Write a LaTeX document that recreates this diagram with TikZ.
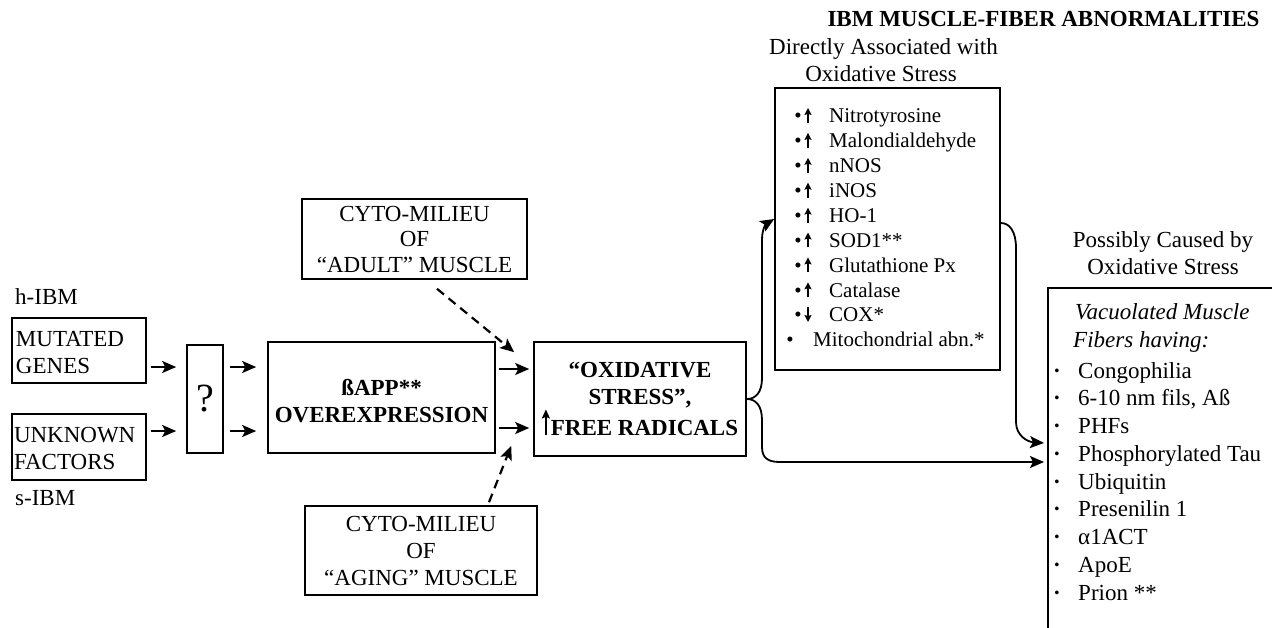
\documentclass[tikz,border=0pt]{standalone}
\usepackage{fontspec}
\setmainfont{Liberation Serif}
\usetikzlibrary{arrows.meta,calc}
\newcommand{\bigup}{\tikz[baseline=0pt,x=1pt,y=1pt]\draw[line width=1.6pt,-{Stealth[length=9pt,width=8pt,inset=1.5pt]}] (0,0)--(0,26);\hspace{1pt}}
\begin{document}
\begin{tikzpicture}[x=1pt,y=-1pt,
  box/.style={draw, line width=1.6pt, inner sep=0pt, align=center, font=\fontsize{23}{27}\selectfont},
  bbox/.style={box, font=\fontsize{23}{27}\selectfont\bfseries},
  arr/.style={line width=1.8pt, -{Stealth[length=14pt,width=12pt,inset=3pt]}},
  darr/.style={arr, line width=2.2pt, dash pattern=on 9pt off 6pt},
  small/.style={line width=1.4pt, -{Stealth[length=7pt,width=7pt,inset=1.2pt]}},
  txt/.style={inner sep=0pt, font=\fontsize{23}{27}\selectfont},
  ltxt/.style={inner sep=0pt, font=\fontsize{21}{25}\selectfont},
  ]
\useasboundingbox (0,0) rectangle (1272,628);

% left labels and boxes
\node[txt, anchor=base west] (hibm) at (15,305) {h-IBM};
\node[txt, anchor=base west] (sibm) at (15,505) {s-IBM};
\node[box, minimum width=134pt, minimum height=65pt, text width=126pt, align=left] (mut) at (79,350.5) {\rule{0pt}{19pt}MUTATED\\GENES};
\node[box, minimum width=134pt, minimum height=66pt, text width=130pt, align=left] (unk) at (79,447) {\rule{0pt}{19pt}UNKNOWN\\FACTORS};
\node[box, minimum width=36pt, minimum height=108pt, font=\fontsize{40}{44}\selectfont] (q) at (205,399) {?};
\node[bbox, minimum width=227pt, minimum height=111pt] (bapp) at (381.5,397.5) {\rule{0pt}{24pt}ßAPP**\\OVEREXPRESSION};
\node[bbox, minimum width=212pt, minimum height=114pt] (ox) at (640,399) {“OXIDATIVE\\STRESS”,\\\bigup FREE RADICALS};
\node[box, minimum width=225pt, minimum height=80pt] (adult) at (414.5,239) {CYTO-MILIEU\\[-2pt]OF\\[-1pt]“ADULT” MUSCLE};
\node[box, minimum width=232pt, minimum height=89pt] (aging) at (421,550.5) {CYTO-MILIEU\\OF\\“AGING” MUSCLE};

% headers
\node[txt, font=\fontsize{23}{27}\selectfont\bfseries, anchor=base] (title) at (1043.5,27) {IBM MUSCLE-FIBER ABNORMALITIES};
\node[txt, anchor=base] (dh1) at (883.5,55) {Directly Associated with};
\node[txt, anchor=base] (dh2) at (881,82) {Oxidative Stress};
\node[txt, anchor=base] (ph1) at (1163,248) {Possibly Caused by};
\node[txt, anchor=base] (ph2) at (1163,275) {Oxidative Stress};

% list box
\node[draw, line width=1.6pt, minimum width=225pt, minimum height=282pt, inner sep=0pt] (list) at (887.5,229) {};
\foreach \lab [count=\i from 0] in {Nitrotyrosine, Malondialdehyde, nNOS, iNOS, HO-1, SOD1**, Glutathione Px, Catalase}{
  \pgfmathsetmacro\b{123+24.9*\i}
  \node[ltxt, anchor=base] (lb\i) at (798,\b) {•};
  \node[ltxt, anchor=base west] (lt\i) at (829,\b) {\lab};
  \draw[small] (808,\b) -- (808,\b-15);
}
\node[ltxt, anchor=base] (lb8) at (798,322) {•};
\node[ltxt, anchor=base west] (lt8) at (829,322) {COX*};
\draw[small] (808,307) -- (808,322);
\node[ltxt, anchor=base] (lb9) at (790,347) {•};
\node[ltxt, anchor=base west] (lt9) at (813,347) {Mitochondrial abn.*};

% right open box
\coordinate (rbtl) at (1048,288);
\draw[line width=1.6pt] (1272,288) -- (rbtl) -- (1048,628);
\coordinate (rbin1) at (1044,443);
\coordinate (rbin2) at (1044,462);
\node[txt, anchor=base west, font=\fontsize{23}{27}\selectfont\itshape] (vac1) at (1075,320) {Vacuolated Muscle};
\node[txt, anchor=base west, font=\fontsize{23}{27}\selectfont\itshape] (vac2) at (1073,348) {Fibers having:};
\foreach \lab [count=\i from 0] in {Congophilia, {6-10 nm fils, Aß}, PHFs, Phosphorylated Tau, Ubiquitin, Presenilin 1, α1ACT, ApoE, Prion **}{
  \pgfmathsetmacro\b{378+27.75*\i}
  \node[txt, anchor=base, font=\fontsize{23}{27}\selectfont\bfseries] (rb\i) at (1057,\b) {·};
  \node[txt, anchor=base west] (rt\i) at (1078,\b) {\lab};
}

% connectors
\draw[arr, shorten <=4pt, shorten >=10pt] (mut.east |- 0,367) -- (q.west |- 0,367);
\draw[arr, shorten <=4pt, shorten >=10pt] (unk.east |- 0,431) -- (q.west |- 0,431);
\draw[arr, shorten <=6pt, shorten >=11pt] (q.east |- 0,367) -- (bapp.west |- 0,367);
\draw[arr, shorten <=6pt, shorten >=11pt] (q.east |- 0,431) -- (bapp.west |- 0,431);
\draw[arr, shorten <=3pt, shorten >=4pt] (bapp.east |- 0,369) -- (ox.west |- 0,369);
\draw[arr, shorten <=3pt, shorten >=4pt] (bapp.east |- 0,428) -- (ox.west |- 0,428);
\draw[darr] ($(adult.south)+(22.5,9)$) -- ($(ox.north west)+(-19,11)$);
\draw[darr] ($(aging.north)+(68,-3)$) -- ($(ox.south west)+(-22,-11)$);
\draw[arr] (ox.east) .. controls (756,399) and (762,392) .. (762,378) -- (762,240) .. controls (762,229) and (766,224) .. (list.west |- 0,219);
\draw[arr] (ox.east) .. controls (756,399) and (762,406) .. (762,420) -- (762,447) .. controls (762,458) and (768,462) .. (780,462) -- (rbin2);
\draw[arr] (list.east |- 0,223) .. controls (1010,223) and (1016,232) .. (1016,248) -- (1016,422) .. controls (1016,436) and (1028,442) .. (rbin1);
\end{tikzpicture}
\end{document}
